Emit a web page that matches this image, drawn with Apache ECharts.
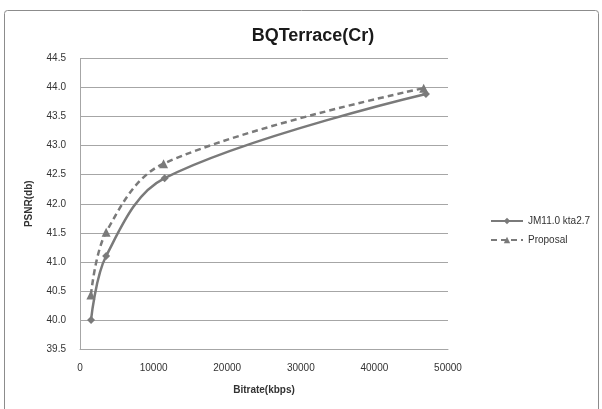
<!DOCTYPE html>
<html>
<head>
<meta charset="utf-8">
<script src="https://cdn.jsdelivr.net/npm/echarts@6/dist/echarts.min.js"></script>
<style>
  html, body { margin: 0; padding: 0; background: #fff; }
  #chart { width: 602px; height: 409px; }
</style>
</head>
<body>
<div id="chart"></div>
<script>
// data
var seriesNames = ['JM11.0 kta2.7', 'Proposal'];
var jmBitrate = [1500, 3550, 11500, 47000];
var jmPsnr = [40.0, 41.1, 42.44, 43.89];
var propBitrate = [1480, 3550, 11350, 46700];
var propPsnr = [40.43, 41.51, 42.69, 43.99];

var lineColor = '#7a7a7a';
var font = '"Liberation Sans", Arial, sans-serif';

function pairs(xs, ys){
	var out = [];
	for (var i = 0; i < xs.length; i++) out.push([xs[i], ys[i]]);
	return out;
}

var chart = echarts.init(document.getElementById('chart'), null, {renderer: 'canvas'});
var option = {
	backgroundColor: '#fff',
	animation: false,
	textStyle: {fontFamily: font},
	title: {
		text: 'BQTerrace(Cr)',
		left: 308, top: 22, textAlign: 'center',
		textStyle: {fontSize: 18, fontWeight: 'bold', color: '#1a1a1a', fontFamily: font}
	},
	graphic: [{
		type: 'rect',
		shape: {x: 4.5, y: 10.5, width: 594, height: 405, r: 3},
		style: {fill: 'none', stroke: '#8c8c8c', lineWidth: 1},
		silent: true
	}],
	legend: {
		orient: 'vertical',
		left: 485, top: 211,
		itemWidth: 32, itemHeight: 8, itemGap: 9,
		textStyle: {fontSize: 10, color: '#333', fontFamily: font},
		data: seriesNames
	},
	grid: {left: 80, right: 154, top: 58.5, bottom: 60},
	xAxis: {
		type: 'value', min: 0, max: 50000, interval: 10000,
		name: 'Bitrate(kbps)', nameLocation: 'middle', nameGap: 36,
		nameTextStyle: {fontSize: 10, fontWeight: 'bold', color: '#333'},
		axisLine: {show: true, lineStyle: {color: '#a6a6a6'}},
		axisTick: {show: false},
		axisLabel: {fontSize: 10, color: '#333', margin: 14,
			formatter: function(v){ return String(v); }},
		splitLine: {show: false}
	},
	yAxis: {
		type: 'value', min: 39.5, max: 44.5, interval: 0.5,
		name: 'PSNR(db)', nameLocation: 'middle', nameGap: 46, nameRotate: 90,
		nameTextStyle: {fontSize: 10, fontWeight: 'bold', color: '#333'},
		axisLine: {show: true, lineStyle: {color: '#a6a6a6'}},
		axisTick: {show: false},
		axisLabel: {fontSize: 10, color: '#333', margin: 14,
			formatter: function(v){ return v.toFixed(1); }},
		splitLine: {lineStyle: {color: '#a6a6a6'}}
	},
	series: [
		{
			name: seriesNames[0], type: 'line', smooth: 0.35,
			symbol: 'diamond', symbolSize: 8,
			itemStyle: {color: lineColor},
			lineStyle: {width: 2.5, color: lineColor},
			data: pairs(jmBitrate, jmPsnr)
		},
		{
			name: seriesNames[1], type: 'line', smooth: 0.35,
			symbol: 'triangle', symbolSize: 9,
			itemStyle: {color: lineColor},
			lineStyle: {width: 2.5, color: lineColor, type: [6, 4]},
			data: pairs(propBitrate, propPsnr)
		}
	]
};
chart.setOption(option);
</script>
</body>
</html>
